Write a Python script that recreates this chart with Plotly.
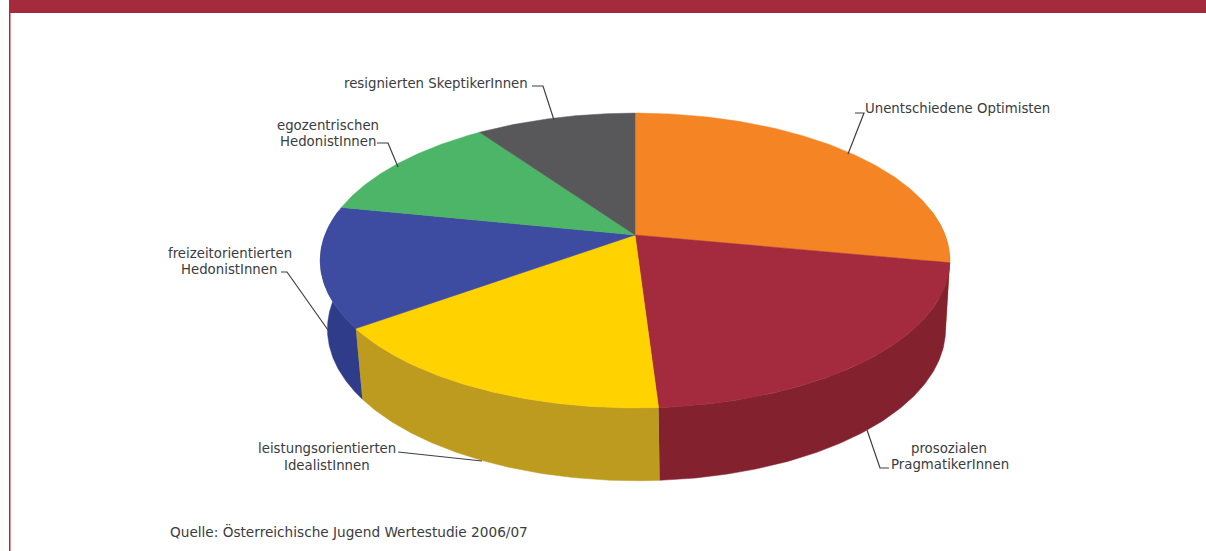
import numpy as np
import plotly.graph_objects as go

# Wertetypen im Uhrzeigersinn, beginnend oben (Anteile in Prozent)
categories = [
    "Unentschiedene Optimisten",
    "prosozialen PragmatikerInnen",
    "leistungsorientierten IdealistInnen",
    "freizeitorientierten HedonistInnen",
    "egozentrischen HedonistInnen",
    "resignierten SkeptikerInnen",
]
shares = [28, 21, 16, 13.2, 12.1, 9.7]
top_colors = ["#f58524", "#a42a3d", "#ffd200", "#3d4ba0", "#4cb568", "#58585a"]
side_colors = ["#b8641b", "#83222e", "#bd9b1e", "#2f3c8a", "#398850", "#424244"]
source_note = "Quelle: Österreichische Jugend Wertestudie 2006/07"

# Perspektivische Projektion des Kreises auf die Bildebene
TILT = 0.173


def rim(theta, cx, apex, half_w, half_h):
    u, v = np.sin(theta), -np.cos(theta)
    w = 1 - TILT * v
    return cx + half_w * u / w, apex + half_h * v / w


TOP = dict(cx=635, apex=235, half_w=310, half_h=143)
BOTTOM = dict(cx=636.5, apex=303, half_w=304.4, half_h=147)

edges = np.radians(np.cumsum([0] + shares) * 3.6)
fig = go.Figure()

# Mantelflächen zuerst, danach die Deckfläche darüber
for i in range(len(shares)):
    a, b = edges[i], edges[i + 1]
    lo, hi = max(a, np.radians(80)), min(b, np.radians(280))
    if lo >= hi:
        continue
    t = np.linspace(lo, hi, 120)
    x1, y1 = rim(t, **TOP)
    x2, y2 = rim(t[::-1], **BOTTOM)
    fig.add_trace(go.Scatter(
        x=np.r_[x1, x2], y=np.r_[y1, y2], mode="lines", fill="toself",
        fillcolor=side_colors[i], line=dict(color=side_colors[i], width=0.5),
        hoverinfo="skip", showlegend=False))

for i in range(len(shares)):
    t = np.linspace(edges[i], edges[i + 1], 160)
    x, y = rim(t, **TOP)
    fig.add_trace(go.Scatter(
        x=np.r_[TOP["cx"], x, TOP["cx"]], y=np.r_[TOP["apex"], y, TOP["apex"]],
        mode="lines", fill="toself", fillcolor=top_colors[i],
        line=dict(color=top_colors[i], width=0.5),
        name=categories[i], hovertemplate="%{fullData.name}<extra></extra>",
        showlegend=False))

# Führungslinien zu den Beschriftungen
leaders = [
    ([855, 864], [113, 113], 848, 154),
    ([889, 880], [468, 468], 867, 430),
    ([398, 470], [452, 460], 482, 461),
    ([281, 287], [272, 272], 328, 330),
    ([377, 388], [143, 143], 398, 167),
    ([532, 543], [86, 86], 554, 120),
]
for xs, ys, ex, ey in leaders:
    fig.add_trace(go.Scatter(
        x=xs + [ex], y=ys + [ey], mode="lines",
        line=dict(color="#3c3f44", width=1.2),
        hoverinfo="skip", showlegend=False))

# Jede Textzeile einzeln, damit der Zeilenabstand 16 px beträgt
label_lines = [
    ("Unentschiedene Optimisten", 957, 108, 13.3),
    ("prosozialen", 949, 448, 13.3),
    ("PragmatikerInnen", 950, 464, 13.3),
    ("leistungsorientierten", 327, 448, 13.3),
    ("IdealistInnen", 327, 465, 13.3),
    ("freizeitorientierten", 230, 253, 13.3),
    ("HedonistInnen", 229, 269, 13.3),
    ("egozentrischen", 328, 125, 13.3),
    ("HedonistInnen", 328, 141, 13.3),
    ("resignierten SkeptikerInnen", 436, 83, 13.3),
    (source_note, 348.5, 531, 13.65),
]
annotations = [
    dict(x=x, y=y, text=text, xref="x", yref="y", showarrow=False,
         xanchor="center", yanchor="middle", borderpad=0,
         font=dict(family="DejaVu Sans", size=size, color="#3a3c40"))
    for text, x, y, size in label_lines
]

# Seitenrahmen: Balken oben und Linie links
shapes = [
    dict(type="rect", x0=9, x1=1206, y0=0, y1=13, xref="x", yref="y",
         fillcolor="#a42a3d", line_width=0),
    dict(type="rect", x0=9, x1=10.5, y0=0, y1=551, xref="x", yref="y",
         fillcolor="#c01f38", line_width=0),
]

fig.update_layout(
    width=1206, height=551, margin=dict(l=0, r=0, t=0, b=0),
    paper_bgcolor="white", plot_bgcolor="white",
    xaxis=dict(range=[0, 1206], visible=False, fixedrange=True),
    yaxis=dict(range=[551, 0], visible=False, fixedrange=True),
    annotations=annotations, shapes=shapes, showlegend=False,
)
fig.write_html("out.html", config=dict(displayModeBar=False))
